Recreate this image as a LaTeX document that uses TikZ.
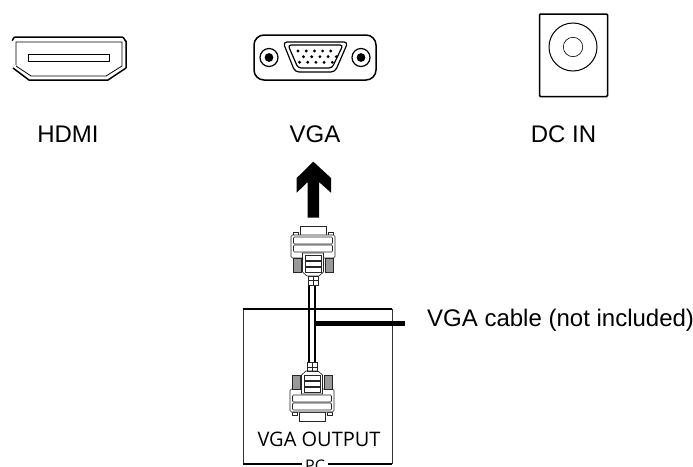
\documentclass[tikz,border=0pt]{standalone}
\usepackage{fontspec}
\setmainfont{Liberation Sans}
\newfontfamily\thinfont{Open Sans}
\tikzset{
 x=1pt,y=-1pt,
 thin line/.style={line width=0.65pt,black!85},
 label text/.style={font=\fontsize{24}{26}\selectfont,inner sep=0pt,text=black},
 pics/dsub/.style={code={
  \draw[thin line] (-13,-42)--(13,-42)--(13,-33)--(-13,-33)--cycle;
  \draw[thin line] (-20,-36) rectangle (-15,-33);
  \draw[thin line] (15,-36) rectangle (20,-33);
  \draw[thin line,fill=white,rounded corners=1.5pt] (-22,-33)--(22,-33)--(22,-10)--(-22,-10)--cycle;
  \draw[thin line,rounded corners=1pt] (-19.5,-31) rectangle (19.5,-24);
  \draw[thin line,rounded corners=1pt] (-19.5,-23) rectangle (19.5,-16);
  \draw[thin line,fill=black!40] (-20,-10) rectangle (-12,4);
  \draw[thin line,fill=black!40] (12,-10) rectangle (20,4);
  \draw[thin line,fill=white] (-10.5,-15)--(10.5,-15)--(10.5,4)--(6,8)--(-6,8)--(-10.5,4)--cycle;
  \draw[thin line] (-8,-13) rectangle (8,-8);
  \draw[thin line] (-8,-7) rectangle (8,-2);
  \draw[thin line] (-8,-1) rectangle (8,4);
  \draw[thin line] (-5,8) rectangle (5,17);
  \draw[thin line] (0,8)--(0,17) (-5,12)--(5,12);
 }}
}
\begin{document}
\begin{tikzpicture}
\path[use as bounding box] (0,0) rectangle (693,466);
\clip (0,0) rectangle (693,466);
% HDMI
\draw[line width=1.5pt,line join=round] (12,40) to[out=-70,in=180] (15,37) -- (122,37) to[out=0,in=-90] (126,41) -- (126,68) -- (108,80) -- (29,80) -- (13,68);
\draw[line width=0.8pt] (16,65) -- (16,42) -- (122,42) -- (122,66) -- (106,76) -- (31,76) -- (16,66);
\draw[line width=0.8pt] (28,54) rectangle (109,61);
% VGA port
\draw[line width=1.5pt,rounded corners=10pt] (254,35) rectangle (376,80);
\foreach \cx in {269,361}{
 \draw[line width=1.2pt] (\cx,57.5) circle (9);
 \fill (\cx,57.5) circle (4.4);
}
\draw[line width=1.2pt,rounded corners=4pt] (283,42) -- (348,42) -- (335,72) -- (295,72) -- cycle;
\draw[line width=1.2pt,rounded corners=3pt] (288,45) -- (343,45) -- (332,68) -- (298,68) -- cycle;
\foreach \px in {0,1,2,3,4}{
 \fill ({298+\px*8.2},51) circle (1.6);
 \fill ({303.5+\px*8.2},56.7) circle (1.6);
 \fill ({299.5+\px*8.2},62.3) circle (1.6);
}
% DC IN
\draw[line width=1.5pt,rounded corners=1pt] (539.5,14) rectangle (607.5,96.5);
\draw[line width=1pt] (573,47) circle (24);
\draw[line width=0.6pt] (573,47) circle (9.7);
% labels
\node[label text] (l1) at (68,134.5) {HDMI};
\node[label text] (l2) at (315,134.5) {VGA};
\node[label text] (l3) at (563.5,134.5) {DC IN};
% arrow
\fill (307.7,217.7) -- (307.7,182) -- (296.7,192.7) -- (296.7,178) -- (313.3,161.7) -- (331,178) -- (331,192.7) -- (319,182) -- (319,217.7) -- cycle;
% PC box
\draw[line width=0.8pt,black!80] (243,309) -- (243,464) (392,309) -- (392,464);
\draw[line width=1.6pt] (242.6,309) -- (392.4,309);
\draw[line width=1.1pt] (302,464) -- (243,464) (392,464) -- (328,464);
\node[font=\thinfont\fontsize{16}{18}\selectfont,inner sep=0pt] (pc) at (315,466) {PC};
\node[font=\thinfont\fontsize{20}{22}\selectfont,inner sep=0pt] (out) at (319,439) {VGA OUTPUT};
% cable
\coordinate (ca) at (309.2,285); \coordinate (cb) at (309.2,363);
\coordinate (cc) at (315,285); \coordinate (cd) at (315,363);
\draw[line width=2.1pt] (ca) -- (cb);
\draw[line width=2.1pt] (cc) -- (cd);
% connectors
\pic at (313,268) {dsub};
\pic[yscale=-1] at (312,379) {dsub};
% leader
\coordinate (la) at (316,323.5); \coordinate (lb) at (405,323.5);
\draw[line width=4.5pt] (la) -- (lb);
\node[font=\fontsize{24}{26}\selectfont,anchor=west,inner sep=0pt] (cable) at (427,320.5) {VGA cable (not included)};
\end{tikzpicture}
\end{document}
